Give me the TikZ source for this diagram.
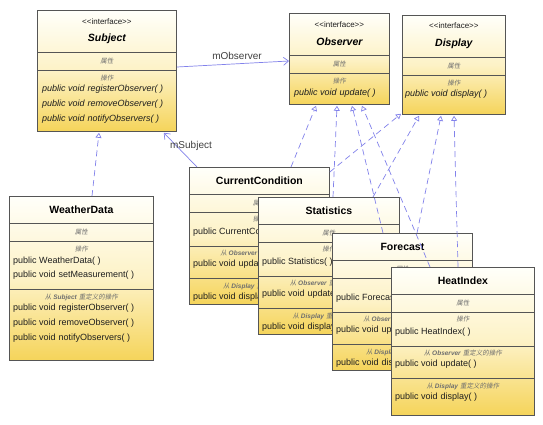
\documentclass[tikz,border=0pt]{standalone}
\usepackage{fontspec}
\setmainfont{Liberation Sans}
\newfontfamily\cjk[FakeSlant=0.2]{Noto Sans CJK SC}
\usetikzlibrary{arrows.meta,calc}
\definecolor{boxborder}{RGB}{85,85,85}
\definecolor{boxtop}{RGB}{255,255,250}
\definecolor{boxmid}{RGB}{253,242,198}
\definecolor{boxbot}{RGB}{245,212,90}
\definecolor{linkblue}{RGB}{130,130,235}
\definecolor{labgray}{RGB}{110,110,110}
\definecolor{txt}{RGB}{30,30,30}
\newcommand\mgap{\hspace{3pt}}
\newcommand\stereotxt{{<}{<}interface{>}{>}}
\newcommand\seclab[1]{{\fontsize{6.5}{7}\selectfont\color{labgray}\cjk #1}}
\newcommand\fromlab[1]{{\fontsize{6.5}{7}\selectfont\color{labgray}{\cjk 从} \textbf{\textit{#1}} {\cjk 重定义的操作}}}
\tikzset{
  clsbox/.style={draw=boxborder, line width=0.8pt, top color=boxtop, bottom color=boxbot, middle color=boxmid, inner sep=0pt, anchor=north west},
  sepline/.style={draw=boxborder, line width=0.8pt},
  stereo/.style={font=\fontsize{8}{9}\selectfont, text=txt, inner sep=0pt},
  ititle/.style={font=\fontsize{10.5}{12}\selectfont\bfseries\itshape, text=black, inner sep=0pt},
  ctitle/.style={font=\fontsize{10.5}{12}\selectfont\bfseries, text=black, inner sep=0pt},
  seclabel/.style={inner sep=0pt},
  meth/.style={font=\fontsize{9}{10}\selectfont, text=txt, anchor=west, inner sep=0pt},
  imeth/.style={meth, font=\fontsize{9}{10}\selectfont\itshape},
  realize/.style={draw=linkblue, line width=0.7pt, dash pattern=on 6pt off 4pt, -{Triangle[open, length=5pt, width=6pt]}},
  assoc/.style={draw=linkblue, line width=0.7pt, -{Straight Barb[length=5pt, width=8pt]}},
  linklabel/.style={font=\fontsize{10}{11}\selectfont, text=txt!85, inner sep=0pt}
}
\newcommand\implbox[6]{%
  \node[clsbox, minimum width=#4pt, minimum height=#5pt] (#1) at (#2,#3) {};
  \draw[sepline] ($(#1.north west)+(0,27)$) -- ($(#1.north east)+(0,27)$);
  \draw[sepline] ($(#1.north west)+(0,45)$) -- ($(#1.north east)+(0,45)$);
  \draw[sepline] ($(#1.north west)+(0,79)$) -- ($(#1.north east)+(0,79)$);
  \draw[sepline] ($(#1.north west)+(0,111)$) -- ($(#1.north east)+(0,111)$);
  \node[ctitle] (#1-name) at ($(#1.north)+(0,14)$) {#6};
  \node[seclabel] (#1-attr) at ($(#1.north)+(0,36)$) {\seclab{属性}};
  \node[seclabel] (#1-ops) at ($(#1.north)+(0,52.5)$) {\seclab{操作}};
  \node[meth] (#1-ctor) at ($(#1.north west)+(4,65)$) {public #6( )};
  \node[seclabel] (#1-fromobs) at ($(#1.north)+(0,86.5)$) {\fromlab{Observer}};
  \node[meth] (#1-upd) at ($(#1.north west)+(4,97)$) {public void\mgap update( )};
  \node[seclabel] (#1-fromdisp) at ($(#1.north)+(0,119)$) {\fromlab{Display}};
  \node[meth] (#1-disp) at ($(#1.north west)+(4,130)$) {public void\mgap display( )};
}
\begin{document}
\begin{tikzpicture}[x=1pt,y=-1pt]
\useasboundingbox (0,0) rectangle (543,424);
\fill[white] (0,0) rectangle (543,424);

% Subject
\node[clsbox, minimum width=139pt, minimum height=121pt] (subj) at (37,10) {};
\draw[sepline] ($(subj.north west)+(0,42)$) -- ($(subj.north east)+(0,42)$);
\draw[sepline] ($(subj.north west)+(0,60)$) -- ($(subj.north east)+(0,60)$);
\node[stereo] (subj-st) at ($(subj.north)+(0,12)$) {\stereotxt};
\node[ititle] (subj-name) at ($(subj.north)+(0,29)$) {Subject};
\node[seclabel] (subj-attr) at ($(subj.north)+(0,51)$) {\seclab{属性}};
\node[seclabel] (subj-ops) at ($(subj.north)+(0,68)$) {\seclab{操作}};
\node[imeth] (subj-m1) at ($(subj.north west)+(5,79)$) {public void\mgap registerObserver( )};
\node[imeth] (subj-m2) at ($(subj.north west)+(5,94)$) {public void\mgap removeObserver( )};
\node[imeth] (subj-m3) at ($(subj.north west)+(5,109)$) {public void\mgap notifyObservers( )};

% Observer
\node[clsbox, minimum width=100pt, minimum height=91pt] (obs) at (289,13) {};
\draw[sepline] ($(obs.north west)+(0,42)$) -- ($(obs.north east)+(0,42)$);
\draw[sepline] ($(obs.north west)+(0,60)$) -- ($(obs.north east)+(0,60)$);
\node[stereo] (obs-st) at ($(obs.north)+(0,12)$) {\stereotxt};
\node[ititle] (obs-name) at ($(obs.north)+(0,29)$) {Observer};
\node[seclabel] (obs-attr) at ($(obs.north)+(0,51)$) {\seclab{属性}};
\node[seclabel] (obs-ops) at ($(obs.north)+(0,68)$) {\seclab{操作}};
\node[imeth] (obs-m1) at ($(obs.north west)+(5,80)$) {public void\mgap update( )};

% Display
\node[clsbox, minimum width=103pt, minimum height=99pt] (disp) at (402,15) {};
\draw[sepline] ($(disp.north west)+(0,42)$) -- ($(disp.north east)+(0,42)$);
\draw[sepline] ($(disp.north west)+(0,60)$) -- ($(disp.north east)+(0,60)$);
\node[stereo] (disp-st) at ($(disp.north)+(0,11)$) {\stereotxt};
\node[ititle] (disp-name) at ($(disp.north)+(0,29)$) {Display};
\node[seclabel] (disp-attr) at ($(disp.north)+(0,51)$) {\seclab{属性}};
\node[seclabel] (disp-ops) at ($(disp.north)+(0,68)$) {\seclab{操作}};
\node[imeth] (disp-m1) at ($(disp.north west)+(3,79)$) {public void\mgap display( )};

% WeatherData
\node[clsbox, minimum width=144pt, minimum height=164pt] (wd) at (9,196) {};
\draw[sepline] ($(wd.north west)+(0,27)$) -- ($(wd.north east)+(0,27)$);
\draw[sepline] ($(wd.north west)+(0,45)$) -- ($(wd.north east)+(0,45)$);
\draw[sepline] ($(wd.north west)+(0,93)$) -- ($(wd.north east)+(0,93)$);
\node[ctitle] (wd-name) at ($(wd.north)+(0,14)$) {WeatherData};
\node[seclabel] (wd-attr) at ($(wd.north)+(0,36)$) {\seclab{属性}};
\node[seclabel] (wd-ops) at ($(wd.north)+(0,53)$) {\seclab{操作}};
\node[meth] (wd-m1) at ($(wd.north west)+(4,65)$) {public WeatherData( )};
\node[meth] (wd-m2) at ($(wd.north west)+(4,79)$) {public void\mgap setMeasurement( )};
\node[seclabel] (wd-from) at ($(wd.north)+(0,101)$) {\fromlab{Subject}};
\node[meth] (wd-m3) at ($(wd.north west)+(4,112)$) {public void\mgap registerObserver( )};
\node[meth] (wd-m4) at ($(wd.north west)+(4,127)$) {public void\mgap removeObserver( )};
\node[meth] (wd-m5) at ($(wd.north west)+(4,142)$) {public void\mgap notifyObservers( )};

% implementing classes
\implbox{cc}{189}{167}{140}{137}{CurrentCondition}
\implbox{st}{258}{197}{141}{137}{Statistics}
\implbox{fc}{332}{233}{140}{137}{Forecast}
\implbox{hi}{391}{267}{143}{148}{HeatIndex}

% connectors
\draw[realize] ($(wd.north west)+(83,0)$) -- ($(subj.south west)+(62,1)$);
\draw[assoc] ($(cc.north west)+(8,0)$) -- ($(subj.south east)+(-13,1)$);
\node[linklabel] (lbl-subj) at (191,146) {mSubject};
\draw[assoc] ($(subj.north east)+(0,57)$) -- ($(obs.north west)+(0,48)$);
\node[linklabel] (lbl-obs) at (237,56) {mObserver};

\draw[realize] ($(cc.north west)+(102,0)$) -- ($(obs.south west)+(27,1)$);
\draw[realize] ($(cc.north east)+(0,5)$) -- ($(disp.south west)+(-1,-1)$);
\draw[realize] ($(st.north west)+(75,0)$) -- ($(obs.south west)+(48,1)$);
\draw[realize] ($(st.north west)+(115,0)$) -- ($(disp.south west)+(17,1)$);
\draw[realize] ($(fc.north west)+(51,0)$) -- ($(obs.south west)+(63,1)$);
\draw[realize] ($(fc.north west)+(85,0)$) -- ($(disp.south west)+(39,1)$);
\draw[realize] ($(hi.north west)+(39,0)$) -- ($(obs.south west)+(73,1)$);
\draw[realize] ($(hi.north west)+(67,0)$) -- ($(disp.south west)+(52,1)$);
\end{tikzpicture}
\end{document}
